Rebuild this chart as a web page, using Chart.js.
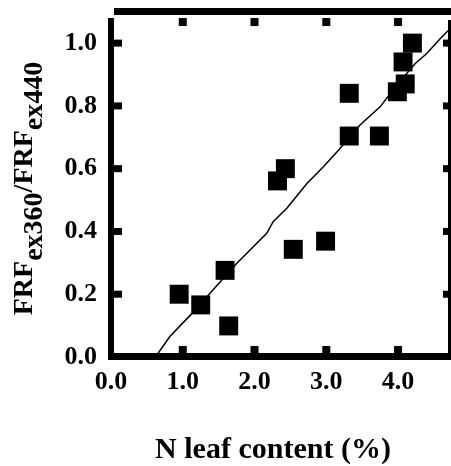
<!DOCTYPE html>
<html><head><meta charset="utf-8">
<script src="https://cdn.jsdelivr.net/npm/chart.js@4"></script>
<style>html,body{margin:0;padding:0;background:#fff}</style>
</head><body>
<canvas id="c" width="451" height="466"></canvas>
<script>
// Measured data points (N leaf content %, FRF ratio)
const pointX = [4.20, 4.07, 4.10, 3.99, 3.32, 3.32, 3.74, 2.43, 2.32, 2.54, 2.99, 1.59, 0.95, 1.25, 1.64];
const pointY = [1.00, 0.94, 0.87, 0.845, 0.84, 0.704, 0.704, 0.60, 0.561, 0.343, 0.369, 0.276, 0.20, 0.166, 0.099];
// Fitted line
const fitX = [0.62, 0.82, 1.13, 1.38, 1.75, 2.17, 2.26, 2.45, 2.73, 2.96, 3.17, 3.47, 3.75, 3.98, 4.24, 4.40, 4.59, 4.70];
const fitY = [0.0, 0.065, 0.139, 0.203, 0.298, 0.394, 0.431, 0.474, 0.553, 0.606, 0.659, 0.739, 0.797, 0.866, 0.935, 0.967, 1.015, 1.04];
const xTicks = [0, 1, 2, 3, 4];
const yTicks = [0, 0.2, 0.4, 0.6, 0.8, 1.0];
const xTitle = 'N leaf content (%)';
const yTitleParts = [['FRF', 0], ['ex360', 1], ['/FRF', 0], ['ex440', 1]];

const FONT = "'Liberation Serif', 'Times New Roman', serif";

const framePlugin = {
  id: 'frame',
  afterDraw(chart) {
    const {ctx, chartArea: a, scales: {x, y}} = chart;
    ctx.save();
    ctx.fillStyle = '#000';
    // spines
    ctx.fillRect(a.left - 3, a.top, 6, a.bottom - a.top + 3);
    ctx.fillRect(a.left - 3, a.bottom - 4, a.right - a.left + 5, 7);
    ctx.fillRect(a.right - 1, a.top + 2, 4, a.bottom - a.top + 1);
    ctx.fillRect(a.left + 3, a.top - 10, a.right - a.left - 1, 7);
    // inward ticks
    xTicks.forEach(v => {
      if (v <= x.min) return;
      const px = x.getPixelForValue(v);
      ctx.fillRect(px - 4, a.bottom - 11, 8, 7);
      ctx.fillRect(px - 4, a.top, 8, 8);
    });
    yTicks.forEach(v => {
      if (v <= y.min) return;
      const py = y.getPixelForValue(v);
      ctx.fillRect(a.left + 3, py - 3.5, 8, 7);
      ctx.fillRect(a.right - 6, py - 3.5, 6, 7);
    });
    // x title
    ctx.font = 'bold 30px ' + FONT;
    ctx.textAlign = 'center';
    ctx.textBaseline = 'alphabetic';
    ctx.fillText(xTitle, 273, 458);
    // y title with subscripts
    ctx.font = 'bold 28px ' + FONT;
    ctx.textAlign = 'left';
    let total = 0;
    yTitleParts.forEach(p => { total += ctx.measureText(p[0]).width; });
    ctx.translate(32, 188.5);
    ctx.rotate(-Math.PI / 2);
    let cx = -total / 2;
    yTitleParts.forEach(p => {
      ctx.fillText(p[0], cx, p[1] ? 10 : 0);
      cx += ctx.measureText(p[0]).width;
    });
    ctx.restore();
  }
};

new Chart(document.getElementById('c'), {
  data: {
    datasets: [
      {
        type: 'line',
        data: fitX.map((v, i) => ({x: v, y: fitY[i]})),
        borderColor: '#000', borderWidth: 1.5, pointRadius: 0, tension: 0, fill: false, order: 0
      },
      {
        type: 'scatter',
        data: pointX.map((v, i) => ({x: v, y: pointY[i]})),
        pointStyle: 'rect', pointRadius: 13.4, backgroundColor: '#000', borderWidth: 0, order: 1
      }
    ]
  },
  options: {
    responsive: false,
    animation: false,
    layout: {autoPadding: false, padding: {top: 18, right: 2, left: 0, bottom: 0}},
    plugins: {legend: {display: false}, tooltip: {enabled: false}},
    scales: {
      x: {
        type: 'linear', min: 0, max: 4.71,
        grid: {display: false, drawTicks: false},
        border: {display: false},
        afterBuildTicks(s) { s.ticks = xTicks.map(v => ({value: v})); },
        ticks: {font: {family: FONT, size: 26, weight: 'bold'}, color: '#000', padding: 10,
                callback: v => Number(v).toFixed(1)},
        afterFit(s) { s.height = 109; s.paddingLeft = 0; s.paddingRight = 0; }
      },
      y: {
        type: 'linear', min: 0, max: 1.08,
        grid: {display: false, drawTicks: false},
        border: {display: false},
        afterBuildTicks(s) { s.ticks = yTicks.map(v => ({value: v})); },
        ticks: {font: {family: FONT, size: 26, weight: 'bold'}, color: '#000', padding: 14,
                callback: v => Number(v).toFixed(1)},
        afterFit(s) { s.width = 111; s.paddingTop = 0; s.paddingBottom = 0; }
      }
    }
  },
  plugins: [framePlugin]
});
</script>
</body></html>
